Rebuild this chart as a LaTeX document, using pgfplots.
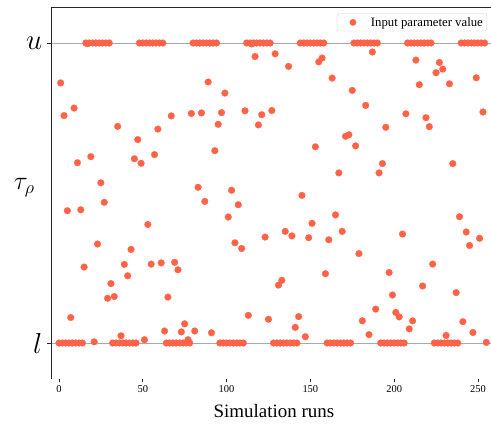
\documentclass[border=0pt]{standalone}
\usepackage{fix-cm}
\usepackage{pgfplots}
\usepackage{pgfplotstable}
\pgfplotsset{compat=1.18}
\usepackage{fontspec}
\setmainfont{Liberation Serif}

\definecolor{tomato}{HTML}{FF6347}
\definecolor{refline}{HTML}{A9A9A9}

% run, value (0 = l, 1 = u)
\pgfplotstableread[row sep=\\]{
x y \\
0 0 \\ 1 0.867 \\ 2 0 \\ 3 0.758 \\ 4 0 \\ 5 0.441 \\ 6 0 \\ 7 0.085 \\
8 0 \\ 9 0.783 \\ 10 0 \\ 11 0.601 \\ 12 0 \\ 13 0.444 \\ 14 0 \\ 15 0.253 \\
16 1 \\ 17 0.998 \\ 18 1 \\ 19 0.621 \\ 20 1 \\ 21 0.004 \\ 22 1 \\ 23 0.330 \\
24 1 \\ 25 0.534 \\ 26 1 \\ 27 0.469 \\ 28 1 \\ 29 0.149 \\ 30 1 \\ 31 0.198 \\
32 0 \\ 33 0.155 \\ 34 0 \\ 35 0.722 \\ 36 0 \\ 37 0.024 \\ 38 0 \\ 39 0.262 \\
40 0 \\ 41 0.224 \\ 42 0 \\ 43 0.312 \\ 44 0 \\ 45 0.614 \\ 46 0 \\ 47 0.678 \\
48 1 \\ 49 0.599 \\ 50 1 \\ 51 0.011 \\ 52 1 \\ 53 0.395 \\ 54 1 \\ 55 0.263 \\
56 1 \\ 57 0.628 \\ 58 1 \\ 59 0.713 \\ 60 1 \\ 61 0.267 \\ 62 1 \\ 63 0.040 \\
64 0 \\ 65 0.153 \\ 66 0 \\ 67 0.757 \\ 68 0 \\ 69 0.269 \\ 70 0 \\ 71 0.244 \\
72 0 \\ 73 0.037 \\ 74 0 \\ 75 0.064 \\ 76 0 \\ 77 0.011 \\ 78 0 \\ 79 0.765 \\
80 1 \\ 81 0.040 \\ 82 1 \\ 83 0.519 \\ 84 1 \\ 85 0.767 \\ 86 1 \\ 87 0.472 \\
88 1 \\ 89 0.870 \\ 90 1 \\ 91 0.034 \\ 92 1 \\ 93 0.641 \\ 94 1 \\ 95 0.729 \\
96 0 \\ 97 0.768 \\ 98 0 \\ 99 0.833 \\ 100 0 \\ 101 0.420 \\ 102 0 \\ 103 0.509 \\
104 0 \\ 105 0.334 \\ 106 0 \\ 107 0.461 \\ 108 0 \\ 109 0.315 \\ 110 0 \\ 111 0.774 \\
112 1 \\ 113 0.092 \\ 114 1 \\ 115 0.997 \\ 116 1 \\ 117 0.955 \\ 118 1 \\ 119 0.727 \\
120 1 \\ 121 0.761 \\ 122 1 \\ 123 0.353 \\ 124 1 \\ 125 0.079 \\ 126 1 \\ 127 0.775 \\
128 0 \\ 129 0.964 \\ 130 0 \\ 131 0.193 \\ 132 0 \\ 133 0.209 \\ 134 0 \\ 135 0.372 \\
136 0 \\ 137 0.922 \\ 138 0 \\ 139 0.357 \\ 140 0 \\ 141 0.052 \\ 142 0 \\ 143 0.088 \\
144 1 \\ 145 0.492 \\ 146 1 \\ 147 0.021 \\ 148 1 \\ 149 0.351 \\ 150 1 \\ 151 0.399 \\
152 1 \\ 153 0.654 \\ 154 1 \\ 155 0.937 \\ 156 1 \\ 157 0.950 \\ 158 1 \\ 159 0.231 \\
160 0 \\ 161 0.344 \\ 162 0 \\ 163 0.883 \\ 164 0 \\ 165 0.427 \\ 166 0 \\ 167 0.567 \\
168 0 \\ 169 0.372 \\ 170 0 \\ 171 0.689 \\ 172 0 \\ 173 0.694 \\ 174 0 \\ 175 0.842 \\
176 1 \\ 177 0.657 \\ 178 1 \\ 179 0.298 \\ 180 1 \\ 181 0.074 \\ 182 1 \\ 183 0.792 \\
184 1 \\ 185 0.028 \\ 186 1 \\ 187 0.970 \\ 188 1 \\ 189 0.113 \\ 190 1 \\ 191 0.567 \\
192 0 \\ 193 0.598 \\ 194 0 \\ 195 0.719 \\ 196 0 \\ 197 0.235 \\ 198 0 \\ 199 0.160 \\
200 0 \\ 201 0.102 \\ 202 0 \\ 203 0.087 \\ 204 0 \\ 205 0.363 \\ 206 0 \\ 207 0.764 \\
208 1 \\ 209 0.047 \\ 210 1 \\ 211 0.074 \\ 212 1 \\ 213 0.943 \\ 214 1 \\ 215 0.861 \\
216 1 \\ 217 0.190 \\ 218 1 \\ 219 0.751 \\ 220 1 \\ 221 0.721 \\ 222 1 \\ 223 0.263 \\
224 0 \\ 225 0.901 \\ 226 0 \\ 227 0.935 \\ 228 0 \\ 229 0.913 \\ 230 0 \\ 231 0.025 \\
232 0 \\ 233 0.864 \\ 234 0 \\ 235 0.598 \\ 236 0 \\ 237 0.168 \\ 238 0 \\ 239 0.421 \\
240 1 \\ 241 0.071 \\ 242 1 \\ 243 0.370 \\ 244 1 \\ 245 0.325 \\ 246 1 \\ 247 0.035 \\
248 1 \\ 249 0.884 \\ 250 1 \\ 251 0.349 \\ 252 1 \\ 253 0.770 \\ 254 1 \\ 255 0.002 \\
}\runs

\begin{document}
\begin{tikzpicture}
  \useasboundingbox (-51bp,-46bp) rectangle (440bp,379bp);
  \begin{axis}[
      scale only axis,
      width  = 440bp,
      height = 372bp,
      xmin = -4.77, xmax = 257.8,
      ymin = -0.12, ymax = 1.12,
      axis line style = {draw=none},
      tick pos = left,
      tick align = outside,
      major tick length = 3.5bp,
      tick style = {black!85, line width=0.8pt},
      xtick = {0,50,...,250},
      ytick = {0,1},
      yticklabels = {$l$,$u$},
      yticklabel style = {font=\fontsize{29}{30}\selectfont, inner sep=2bp, xshift=-3bp},
      xticklabel style = {font=\fontsize{10.5}{12}\selectfont},
      /pgf/number format/assume math mode=true,
      xlabel = {Simulation runs},
      xlabel style = {font=\fontsize{19}{22}\selectfont, anchor=base,
                      at={(axis description cs:0.5066,-0.104)}},
      ylabel = {\fontsize{26}{28}\selectfont$\tau_\rho$},
      ylabel style = {rotate=-90, anchor=center,
                      at={(axis description cs:-0.061,0.515)}},
      legend style = {font=\fontsize{12.8}{14}\selectfont,
                      at={(axis description cs:0.991,0.9825)}, anchor=north east,
                      draw=black!20, rounded corners=2bp, fill=white, fill opacity=0.85,
                      text opacity=1, inner xsep=2bp, inner ysep=1.5bp},
    ]
    \addplot[refline, line width=0.9pt, forget plot] coordinates {(-10,0) (300,0)};
    \addplot[refline, line width=0.9pt, forget plot] coordinates {(-10,1) (300,1)};
    \addplot[only marks, mark=*, mark size=3.4bp,
             mark options={fill=tomato, draw=tomato, line width=0.2pt},
             legend image code/.code={
               \path[draw=none] (0bp,0bp) -- (30bp,0bp);
               \path[draw=none, fill=tomato, fill opacity=1] (14bp,0bp) circle (3.4bp);}]
      table[x=x, y=y] {\runs};
    \addlegendentry{Input parameter value}
    \draw[black!85, line width=0.9pt]
      (rel axis cs:0,1) -- (rel axis cs:0,0) -- (rel axis cs:1.01,0);
    \draw[black!85, line width=0.9pt] (rel axis cs:0,1) -- (rel axis cs:1.01,1);
  \end{axis}
\end{tikzpicture}
\end{document}
